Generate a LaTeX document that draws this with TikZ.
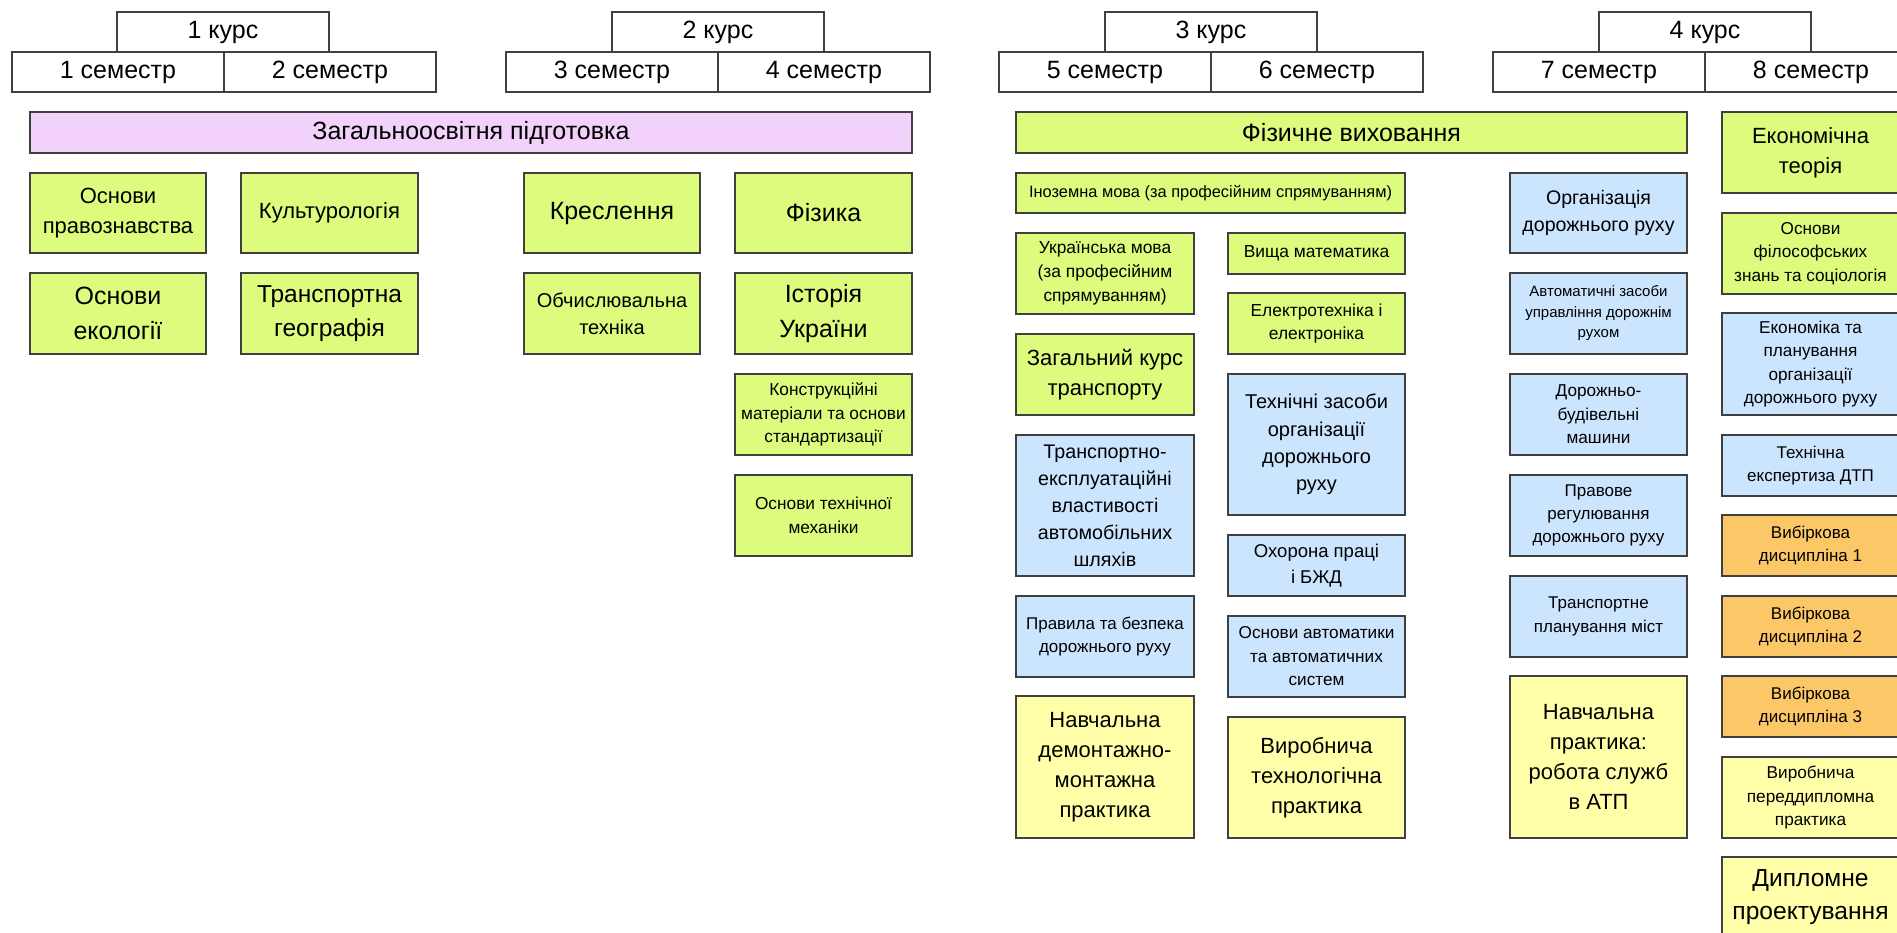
\documentclass[tikz,border=0pt]{standalone}
\usepackage{fontspec}
\setmainfont{Liberation Sans}
\definecolor{cgreen}{HTML}{DDFB7C}
\definecolor{cpurple}{HTML}{F2D2FA}
\definecolor{cblue}{HTML}{CCE5FF}
\definecolor{cyellow}{HTML}{FFFFAA}
\definecolor{corange}{HTML}{FCC867}
\definecolor{cborder}{HTML}{404040}
\newcommand\fsz[1]{\fontsize{#1pt}{\the\dimexpr #1pt*137/100\relax}\selectfont}
\newcommand\bx[7]{\node[box,#6,minimum width={#4-#2},minimum height={#5-#3}] (#1) at ({(#2+#4)/2},{(#3+#5)/2}) {#7};}
\tikzset{
  box/.style={draw=cborder,line width=1.8pt,rectangle,inner sep=0pt,align=center,text=black},
  hdr/.style={fill=white,font=\fsz{25}},
  gbox/.style={fill=cgreen},
  pbox/.style={fill=cpurple},
  bbox/.style={fill=cblue},
  ybox/.style={fill=cyellow},
  obox/.style={fill=corange},
}
\begin{document}
\begin{tikzpicture}[x=1pt,y=-1pt]
\clip (0,0) rectangle (1897,933);
\fill[white] (0,0) rectangle (1897,933);
% headers
\bx{k1}{117}{12}{329}{52}{hdr}{1 курс}
\bx{s1}{12}{52}{224}{92}{hdr}{1 семестр}
\bx{s2}{224}{52}{436}{92}{hdr}{2 семестр}
\bx{k2}{612}{12}{824}{52}{hdr}{2 курс}
\bx{s3}{506}{52}{718}{92}{hdr}{3 семестр}
\bx{s4}{718}{52}{930}{92}{hdr}{4 семестр}
\bx{k3}{1105}{12}{1317}{52}{hdr}{3 курс}
\bx{s5}{999}{52}{1211}{92}{hdr}{5 семестр}
\bx{s6}{1211}{52}{1423}{92}{hdr}{6 семестр}
\bx{k4}{1599}{12}{1811}{52}{hdr}{4 курс}
\bx{s7}{1493}{52}{1705}{92}{hdr}{7 семестр}
\bx{s8}{1705}{52}{1917}{92}{hdr}{8 семестр}
% wide bars
\bx{zag}{30}{112}{912}{153}{pbox,font=\fsz{25}}{Загальноосвітня підготовка}
\bx{fiz}{1016}{112}{1687}{153}{gbox,font=\fsz{25}}{Фізичне виховання}
% columns 1-4
\bx{pravo}{30}{173}{206}{253}{gbox,font=\fsz{22}}{Основи\\правознавства}
\bx{kult}{241}{173}{418}{253}{gbox,font=\fsz{22}}{Культурологія}
\bx{kresl}{524}{173}{700}{253}{gbox,font=\fsz{25}}{Креслення}
\bx{fizyka}{735}{173}{912}{253}{gbox,font=\fsz{25}}{Фізика}
\bx{ekol}{30}{273}{206}{354}{gbox,font=\fsz{25}}{Основи\\екології}
\bx{geogr}{241}{273}{418}{354}{gbox,font=\fsz{24.5}}{Транспортна\\географія}
\bx{obch}{524}{273}{700}{354}{gbox,font=\fsz{20}}{Обчислювальна\\техніка}
\bx{ist}{735}{273}{912}{354}{gbox,font=\fsz{25}}{Історія\\України}
\bx{konstr}{735}{374}{912}{455}{gbox,font=\fsz{17.3}}{Конструкційні\\матеріали та основи\\стандартизації}
\bx{mekh}{735}{475}{912}{556}{gbox,font=\fsz{17.3}}{Основи технічної\\механіки}
% columns 5-6
\bx{inoz}{1016}{173}{1405}{213}{gbox,font=\fsz{16.4}}{Іноземна мова (за професійним спрямуванням)}
\bx{ukr}{1016}{233}{1194}{314}{gbox,font=\fsz{17.4}}{Українська мова\\(за професійним\\спрямуванням)}
\bx{zagk}{1016}{334}{1194}{415}{gbox,font=\fsz{22}}{Загальний курс\\транспорту}
\bx{tev}{1016}{435}{1194}{576}{bbox,font=\fsz{19.7}}{Транспортно-\\експлуатаційні\\властивості\\автомобільних\\шляхів}
\bx{prav}{1016}{596}{1194}{677}{bbox,font=\fsz{17}}{Правила та безпека\\дорожнього руху}
\bx{ndm}{1016}{696}{1194}{838}{ybox,font=\fsz{22}}{Навчальна\\демонтажно-\\монтажна\\практика}
\bx{vyshm}{1228}{233}{1405}{274}{gbox,font=\fsz{17.4}}{Вища математика}
\bx{elek}{1228}{293}{1405}{354}{gbox,font=\fsz{17.4}}{Електротехніка і\\електроніка}
\bx{tzod}{1228}{374}{1405}{515}{bbox,font=\fsz{20}}{Технічні засоби\\організації\\дорожнього\\руху}
\bx{ohor}{1228}{535}{1405}{596}{bbox,font=\fsz{18.5}}{Охорона праці\\і БЖД}
\bx{avtom}{1228}{616}{1405}{697}{bbox,font=\fsz{17.2}}{Основи автоматики\\та автоматичних\\систем}
\bx{vtp}{1228}{717}{1405}{838}{ybox,font=\fsz{22}}{Виробнича\\технологічна\\практика}
% column 7
\bx{orgdr}{1510}{173}{1687}{253}{bbox,font=\fsz{19.6}}{Організація\\дорожнього руху}
\bx{azu}{1510}{273}{1687}{354}{bbox,font=\fsz{15}}{Автоматичні засоби\\управління дорожнім\\рухом}
\bx{dbm}{1510}{374}{1687}{455}{bbox,font=\fsz{17.2}}{Дорожньо-\\будівельні\\машини}
\bx{prre}{1510}{475}{1687}{556}{bbox,font=\fsz{17}}{Правове\\регулювання\\дорожнього руху}
\bx{tpm}{1510}{576}{1687}{657}{bbox,font=\fsz{17}}{Транспортне\\планування міст}
\bx{npr}{1510}{676}{1687}{838}{ybox,font=\fsz{22}}{Навчальна\\практика:\\робота служб\\в АТП}
% column 8
\bx{ekt}{1722}{112}{1899}{193}{gbox,font=\fsz{22}}{Економічна\\теорія}
\bx{fil}{1722}{213}{1899}{294}{gbox,font=\fsz{17.2}}{Основи\\філософських\\знань та соціологія}
\bx{ekpl}{1722}{313}{1899}{415}{bbox,font=\fsz{17.2}}{Економіка та\\планування\\організації\\дорожнього руху}
\bx{tedtp}{1722}{435}{1899}{496}{bbox,font=\fsz{17}}{Технічна\\експертиза ДТП}
\bx{vyb1}{1722}{515}{1899}{576}{obox,font=\fsz{17}}{Вибіркова\\дисципліна 1}
\bx{vyb2}{1722}{596}{1899}{657}{obox,font=\fsz{17}}{Вибіркова\\дисципліна 2}
\bx{vyb3}{1722}{676}{1899}{737}{obox,font=\fsz{17}}{Вибіркова\\дисципліна 3}
\bx{vpp}{1722}{757}{1899}{838}{ybox,font=\fsz{17.2}}{Виробнича\\переддипломна\\практика}
\bx{dypl}{1722}{857}{1899}{937}{ybox,font=\fsz{24.6}}{Дипломне\\проектування}
\end{tikzpicture}
\end{document}
